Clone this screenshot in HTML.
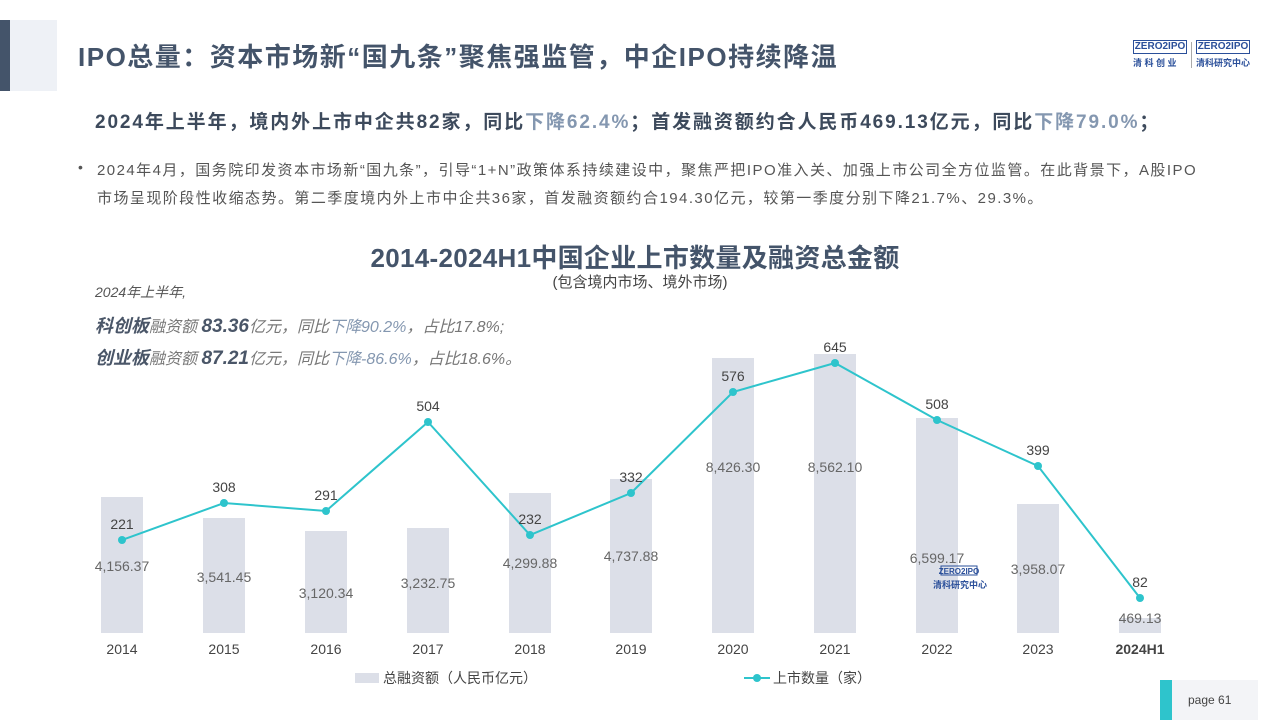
<!DOCTYPE html>
<html><head><meta charset="utf-8"><style>
body{margin:0;width:1280px;height:720px;background:#fff;position:relative;overflow:hidden;font-family:"Liberation Sans","Noto Sans CJK SC",sans-serif;color:#3d4a5c}
.a{position:absolute;white-space:nowrap}
</style></head><body>
<div class="a" style="left:0;top:20px;width:10px;height:71px;background:#44546a"></div>
<div class="a" style="left:10px;top:20px;width:47px;height:71px;background:#eef1f6"></div>
<div class="a" style="left:78px;top:37px;font-size:26px;font-weight:bold;color:#44546a;letter-spacing:1.5px">IPO总量：资本市场新“国九条”聚焦强监管，中企IPO持续降温</div>
<div class="a" style="left:1133px;top:40px;width:52px;height:12px;border:1px solid #2a4f9a;font-size:10px;font-weight:bold;color:#2a4f9a;line-height:12px;text-align:center">ZERO2IPO</div>
<div class="a" style="left:1133px;top:56px;font-size:9px;color:#2a4f9a;font-weight:bold">清 科 创 业</div>
<div class="a" style="left:1196px;top:40px;width:52px;height:12px;border:1px solid #2a4f9a;font-size:10px;font-weight:bold;color:#2a4f9a;line-height:12px;text-align:center">ZERO2IPO</div>
<div class="a" style="left:1196px;top:56px;font-size:9px;color:#2a4f9a;font-weight:bold">清科研究中心</div>
<div class="a" style="left:1191px;top:42px;width:1px;height:26px;background:#aaa"></div>
<div class="a" style="left:95px;top:107px;font-size:19px;font-weight:bold;color:#3d4a5c;letter-spacing:1.9px">2024年上半年，境内外上市中企共82家，同比<span style="color:#8497b0">下降62.4%</span>；首发融资额约合人民币469.13亿元，同比<span style="color:#8497b0">下降79.0%</span>；</div>
<div class="a" style="left:78px;top:159px;font-size:14px;color:#555">•</div>
<div class="a" style="left:97px;top:157px;font-size:15px;color:#555;line-height:28px;letter-spacing:1.45px">2024年4月，国务院印发资本市场新“国九条”，引导“1+N”政策体系持续建设中，聚焦严把IPO准入关、加强上市公司全方位监管。在此背景下，A股IPO<br>市场呈现阶段性收缩态势。第二季度境内外上市中企共36家，首发融资额约合194.30亿元，较第一季度分别下降21.7%、29.3%。</div>
<div class="a" style="left:0;width:1270px;top:238px;text-align:center;font-size:26px;font-weight:bold;color:#44546a;letter-spacing:0.3px">2014-2024H1中国企业上市数量及融资总金额</div>
<div class="a" style="left:0;width:1280px;top:271px;text-align:center;font-size:15px;color:#444">(包含境内市场、境外市场)</div>
<div class="a" style="left:95px;top:282px;font-size:14px;font-style:italic;color:#555">2024年上半年,</div>
<div class="a" style="left:95px;top:312px;font-size:16px;font-style:italic;color:#777"><b style="font-size:18px;color:#4a5668">科创板</b>融资额 <b style="font-size:19px;color:#4a5668">83.36</b>亿元，同比<span style="color:#8497b0">下降90.2%</span>，占比17.8%;</div>
<div class="a" style="left:95px;top:344px;font-size:16px;font-style:italic;color:#777"><b style="font-size:18px;color:#4a5668">创业板</b>融资额 <b style="font-size:19px;color:#4a5668">87.21</b>亿元，同比<span style="color:#8497b0">下降-86.6%</span>，占比18.6%。</div>
<svg class="a" style="left:0;top:0" width="1280" height="720" font-family="Liberation Sans, Noto Sans CJK SC, sans-serif">
<g fill="#dcdfe8">
<rect x="101" y="497" width="42" height="136"/>
<rect x="203" y="518" width="42" height="115"/>
<rect x="305" y="531" width="42" height="102"/>
<rect x="407" y="528" width="42" height="105"/>
<rect x="509" y="493" width="42" height="140"/>
<rect x="610" y="479" width="42" height="154"/>
<rect x="712" y="358" width="42" height="275"/>
<rect x="814" y="354" width="42" height="279"/>
<rect x="916" y="418" width="42" height="215"/>
<rect x="1017" y="504" width="42" height="129"/>
<rect x="1119" y="618" width="42" height="15"/>
</g>
<g font-size="14" fill="#666" text-anchor="middle">
<text x="122" y="571">4,156.37</text><text x="224" y="582">3,541.45</text><text x="326" y="598">3,120.34</text><text x="428" y="588">3,232.75</text><text x="530" y="568">4,299.88</text><text x="631" y="561">4,737.88</text><text x="733" y="472">8,426.30</text><text x="835" y="472">8,562.10</text><text x="937" y="563">6,599.17</text><text x="1038" y="574">3,958.07</text><text x="1140" y="623">469.13</text>
</g>
<polyline fill="none" stroke="#2ec4cc" stroke-width="2" points="122,540 224,503 326,511 428,422 530,535 631,493 733,392 835,363 937,420 1038,466 1140,598"/>
<g fill="#2ec4cc"><circle cx="122" cy="540" r="4"/><circle cx="224" cy="503" r="4"/><circle cx="326" cy="511" r="4"/><circle cx="428" cy="422" r="4"/><circle cx="530" cy="535" r="4"/><circle cx="631" cy="493" r="4"/><circle cx="733" cy="392" r="4"/><circle cx="835" cy="363" r="4"/><circle cx="937" cy="420" r="4"/><circle cx="1038" cy="466" r="4"/><circle cx="1140" cy="598" r="4"/></g>
<g font-size="14" fill="#444" text-anchor="middle">
<text x="122" y="529">221</text><text x="224" y="492">308</text><text x="326" y="500">291</text><text x="428" y="411">504</text><text x="530" y="524">232</text><text x="631" y="482">332</text><text x="733" y="381">576</text><text x="835" y="352">645</text><text x="937" y="409">508</text><text x="1038" y="455">399</text><text x="1140" y="587">82</text>
</g>
<g font-size="14" fill="#444" text-anchor="middle">
<text x="122" y="654">2014</text><text x="224" y="654">2015</text><text x="326" y="654">2016</text><text x="428" y="654">2017</text><text x="530" y="654">2018</text><text x="631" y="654">2019</text><text x="733" y="654">2020</text><text x="835" y="654">2021</text><text x="937" y="654">2022</text><text x="1038" y="654">2023</text><text x="1140" y="654" font-weight="bold">2024H1</text>
</g>
<rect x="941" y="566" width="36" height="9" fill="none" stroke="#2a4f9a"/>
<text x="959" y="574" font-size="8" font-weight="bold" fill="#2a4f9a" text-anchor="middle">ZERO2IPO</text>
<text x="960" y="588" font-size="9" font-weight="bold" fill="#2a4f9a" text-anchor="middle">清科研究中心</text>
<rect x="355" y="673" width="24" height="10" fill="#dcdfe8"/>
<text x="383" y="683" font-size="14" fill="#444">总融资额（人民币亿元）</text>
<line x1="744" y1="678" x2="770" y2="678" stroke="#2ec4cc" stroke-width="2"/><circle cx="757" cy="678" r="4" fill="#2ec4cc"/>
<text x="773" y="683" font-size="14" fill="#444">上市数量（家）</text>
<rect x="1160" y="680" width="12" height="40" fill="#2ec4cc"/>
<rect x="1172" y="680" width="86" height="40" fill="#f3f4f7"/>
<text x="1188" y="704" font-size="12" fill="#444">page  61</text>
</svg>
</body></html>
